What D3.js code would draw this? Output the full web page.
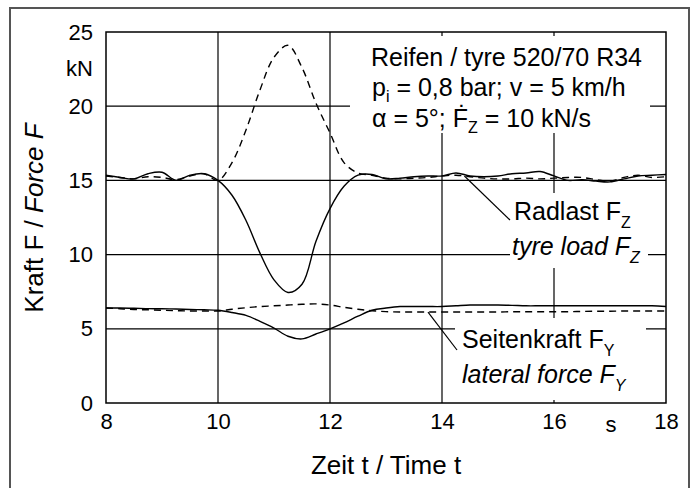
<!DOCTYPE html>
<html>
<head>
<meta charset="utf-8">
<script src="https://cdn.jsdelivr.net/npm/d3@7"></script>
<style>
  body { margin: 0; background: #fff; }
  svg { display: block; font-family: "Liberation Sans", Arial, sans-serif; }
</style>
</head>
<body>
<svg id="chart" width="694" height="488"></svg>
<script>
// time axis (s)
const time = [8, 8.25, 8.5, 8.75, 9, 9.25, 9.5, 9.75, 10, 10.25, 10.5, 10.75, 11, 11.25, 11.5, 11.75,
  12, 12.25, 12.5, 12.75, 13, 13.25, 13.5, 13.75, 14, 14.25, 14.5, 14.75, 15, 15.25, 15.5, 15.75,
  16, 16.25, 16.5, 16.75, 17, 17.25, 17.5, 17.75, 18];

// tyre load F_Z, solid and dashed (kN)
const fzSolid = [15.35, 15.2, 15.1, 15.45, 15.55, 15.0, 15.35, 15.45, 15.0, 14.0, 12.3, 10.1, 8.3, 7.45, 8.0, 10.9,
  13.1, 14.6, 15.35, 15.4, 15.1, 15.15, 15.25, 15.3, 15.3, 15.5, 15.3, 15.25, 15.3, 15.45, 15.5, 15.6,
  15.3, 15.0, 15.05, 14.95, 14.9, 15.1, 15.3, 15.35, 15.4];
const fzDashed = [15.3, 15.2, 15.1, 15.25, 15.2, 15.05, 15.3, 15.45, 15.0, 16.2, 18.4, 21.1, 23.3, 24.1, 22.6, 20.2,
  18.2, 16.2, 15.5, 15.35, 15.15, 15.1, 15.15, 15.2, 15.3, 15.35, 15.25, 15.15, 15.1, 15.1, 15.15, 15.1,
  15.15, 15.2, 15.2, 15.05, 14.95, 15.2, 15.35, 15.2, 15.25];

// lateral force F_Y, solid and dashed (kN)
const fySolid = [6.4, 6.4, 6.38, 6.36, 6.35, 6.33, 6.3, 6.28, 6.25, 6.1, 5.9, 5.5, 5.05, 4.5, 4.32, 4.65,
  5.0, 5.4, 5.85, 6.25, 6.4, 6.5, 6.5, 6.5, 6.5, 6.55, 6.6, 6.6, 6.6, 6.58, 6.55, 6.55,
  6.55, 6.55, 6.55, 6.55, 6.55, 6.55, 6.55, 6.55, 6.5];
const fyDashed = [6.4, 6.35, 6.3, 6.28, 6.25, 6.22, 6.2, 6.2, 6.2, 6.32, 6.42, 6.5, 6.55, 6.6, 6.65, 6.68,
  6.6, 6.45, 6.32, 6.22, 6.16, 6.13, 6.13, 6.13, 6.13, 6.13, 6.13, 6.13, 6.13, 6.15, 6.15, 6.15,
  6.15, 6.15, 6.17, 6.18, 6.18, 6.2, 6.2, 6.2, 6.2];

const xTicks = [8, 10, 12, 14, 16, 18];
const yTicks = [0, 5, 10, 15, 20, 25];

const svg = d3.select('#chart');

const x = d3.scaleLinear().domain([8, 18]).range([106, 666]);
const y = d3.scaleLinear().domain([0, 25]).range([403, 32]);

// outer frame (no bottom edge)
svg.append('path')
  .attr('d', 'M10,490 V8 H689 V490')
  .attr('fill', 'none')
  .attr('stroke', '#555')
  .attr('stroke-width', 2);

// grid
const grid = svg.append('g').attr('stroke', '#000').attr('stroke-width', 1.2);
grid.selectAll('.gx')
  .data(xTicks.slice(1, -1))
  .join('line')
  .attr('x1', (d) => x(d)).attr('x2', (d) => x(d))
  .attr('y1', y(25)).attr('y2', y(0));
grid.selectAll('.gy')
  .data(yTicks.slice(1, -1))
  .join('line')
  .attr('x1', x(8)).attr('x2', x(18))
  .attr('y1', (d) => y(d)).attr('y2', (d) => y(d));

// white boxes behind the annotations
const boxes = [
  [350, 36, 300, 97],
  [510, 193, 138, 75],
  [455, 318, 191, 82]
];
svg.append('g')
  .selectAll('rect')
  .data(boxes)
  .join('rect')
  .attr('x', (d) => d[0]).attr('y', (d) => d[1])
  .attr('width', (d) => d[2]).attr('height', (d) => d[3])
  .attr('fill', '#fff');

// curves
const line = (vals) => d3.line()
  .x((d, i) => x(time[i]))
  .y((d) => y(d))
  .curve(d3.curveCatmullRom.alpha(0.5))(vals);

const series = [
  { v: fzSolid, dash: null },
  { v: fzDashed, dash: '7,5' },
  { v: fySolid, dash: null },
  { v: fyDashed, dash: '7,5' }
];
svg.append('g')
  .selectAll('path')
  .data(series)
  .join('path')
  .attr('d', (d) => line(d.v))
  .attr('fill', 'none')
  .attr('stroke', '#000')
  .attr('stroke-width', 1.4)
  .attr('stroke-dasharray', (d) => d.dash);

// plot border
svg.append('rect')
  .attr('x', x(8)).attr('y', y(25))
  .attr('width', x(18) - x(8)).attr('height', y(0) - y(25))
  .attr('fill', 'none')
  .attr('stroke', '#000')
  .attr('stroke-width', 1.5);

// axes
const xAxis = svg.append('g')
  .attr('transform', `translate(0,${y(0)})`)
  .call(d3.axisBottom(x).tickValues(xTicks).tickSize(0).tickPadding(10));
const yAxis = svg.append('g')
  .attr('transform', `translate(${x(8)},0)`)
  .call(d3.axisLeft(y).tickValues(yTicks).tickSize(0).tickPadding(13));
[xAxis, yAxis].forEach((g) => {
  g.select('.domain').remove();
  g.selectAll('text')
    .attr('font-family', '"Liberation Sans", Arial, sans-serif')
    .attr('font-size', 22)
    .attr('fill', '#000');
});

svg.append('text').attr('x', 93).attr('y', 76).attr('text-anchor', 'end')
  .attr('font-size', 22).text('kN');
svg.append('text').attr('x', 611).attr('y', 432).attr('text-anchor', 'middle')
  .attr('font-size', 22).text('s');

svg.append('text')
  .attr('x', 386).attr('y', 474)
  .attr('text-anchor', 'middle')
  .attr('font-size', 26)
  .text('Zeit t / Time t');

const yl = svg.append('text')
  .attr('transform', 'translate(43,218) rotate(-90)')
  .attr('text-anchor', 'middle')
  .attr('font-size', 26);
yl.append('tspan').text('Kraft F / ');
yl.append('tspan').attr('font-style', 'italic').text('Force F');

// annotation text
const note = svg.append('g').attr('font-size', 25).attr('fill', '#000');
note.append('text').attr('x', 371).attr('y', 66).text('Reifen / tyre 520/70 R34');
const l2 = note.append('text').attr('x', 372).attr('y', 96);
l2.append('tspan').text('p');
l2.append('tspan').attr('font-size', 16).attr('dy', 6).text('i');
l2.append('tspan').attr('dy', -6).text(' = 0,8 bar; v = 5 km/h');
const l3 = note.append('text').attr('x', 372).attr('y', 127);
l3.append('tspan').text('α = 5°; Ḟ');
l3.append('tspan').attr('font-size', 16).attr('dy', 6).text('Z');
l3.append('tspan').attr('dy', -6).text(' = 10 kN/s');

function label(xp, yp, main, sub, italic) {
  const t = note.append('text').attr('x', xp).attr('y', yp)
    .attr('font-style', italic ? 'italic' : null);
  t.append('tspan').text(main);
  t.append('tspan').attr('font-size', 16).attr('dy', 8).text(sub);
}
label(514, 220, 'Radlast F', 'Z', false);
label(512, 255, 'tyre load F', 'Z', true);
label(462, 348, 'Seitenkraft F', 'Y', false);
label(462, 383, 'lateral force F', 'Y', true);

// leader lines: from a point on the curve [t, kN] to the label [px, px]
const leaders = [
  { from: [14.4, 15.3], to: [510, 220] },
  { from: [13.75, 6.13], to: [457, 350] }
];
svg.append('g')
  .selectAll('line')
  .data(leaders)
  .join('line')
  .attr('x1', (d) => x(d.from[0])).attr('y1', (d) => y(d.from[1]))
  .attr('x2', (d) => d.to[0]).attr('y2', (d) => d.to[1])
  .attr('stroke', '#000')
  .attr('stroke-width', 1.2);
</script>
</body>
</html>
